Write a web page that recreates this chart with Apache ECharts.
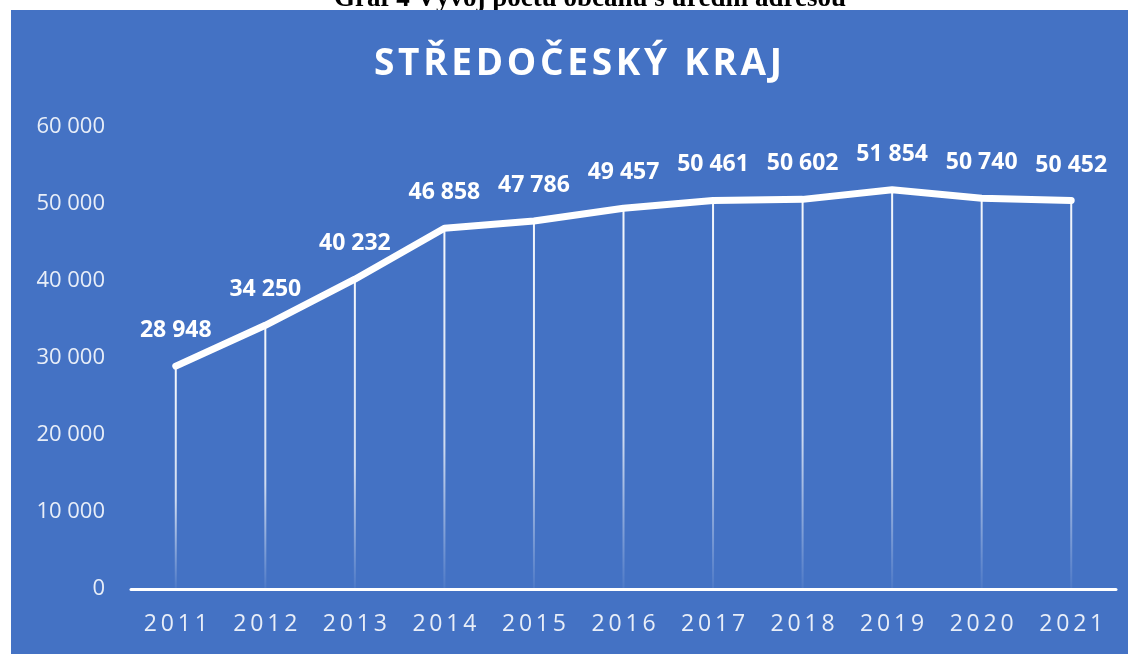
<!DOCTYPE html>
<html>
<head>
<meta charset="utf-8">
<script src="https://cdn.jsdelivr.net/npm/echarts@6/dist/echarts.min.js"></script>
<style>
    html, body { margin: 0; padding: 0; background: #fff; }
    #main { width: 1128px; height: 654px; }
</style>
</head>
<body>
<div id="main"></div>
<script>
var years = ['2011', '2012', '2013', '2014', '2015', '2016', '2017', '2018', '2019', '2020', '2021'];
var counts = [28948, 34250, 40232, 46858, 47786, 49457, 50461, 50602, 51854, 50740, 50452];
var yTicks = [0, 10000, 20000, 30000, 40000, 50000, 60000];

var titleText = 'STŘEDOČESKÝ KRAJ';
var captionText = 'Graf 4 Vývoj počtu občanů s úřední adresou';

// mezera po tisících
function fmt(v) {
    return String(v).replace(/\B(?=(\d{3})+(?!\d))/g, ' ');
}
function spaced(s, sep) {
    return s.split('').join(sep);
}

var chart = echarts.init(document.getElementById('main'));
var option = {
    backgroundColor: '#ffffff',
    animation: false,
    graphic: [
        {
            type: 'text',
            z: -2,
            style: {
                x: 590,
                y: -1,
                align: 'center',
                verticalAlign: 'middle',
                text: captionText,
                font: 'bold 27px "Liberation Serif"',
                fill: '#000'
            }
        },
        {
            type: 'rect',
            z: -1,
            shape: { x: 11, y: 10, width: 1117, height: 644 },
            style: { fill: '#4472C4' }
        },
        {
            type: 'text',
            z: 10,
            style: {
                x: 578,
                y: 64,
                align: 'center',
                verticalAlign: 'middle',
                text: spaced(titleText, '\u200A'),
                font: 'bold 37px "Open Sans"',
                fill: '#ffffff'
            }
        }
    ],
    grid: {
        left: 131,
        right: 12,
        top: 127,
        bottom: 65
    },
    xAxis: {
        type: 'category',
        data: years,
        boundaryGap: true,
        axisLine: { lineStyle: { color: '#ffffff', width: 3 } },
        axisTick: { show: false },
        axisLabel: {
            margin: 24,
            color: 'rgba(255,255,255,0.88)',
            fontFamily: 'Open Sans',
            fontSize: 23,
            formatter: function (v) { return spaced(v, '\u2009'); }
        }
    },
    yAxis: {
        type: 'value',
        min: yTicks[0],
        max: yTicks[yTicks.length - 1],
        interval: 10000,
        splitLine: { show: false },
        axisLine: { show: false },
        axisTick: { show: false },
        axisLabel: {
            margin: 26,
            color: 'rgba(255,255,255,0.88)',
            fontFamily: 'Open Sans',
            fontSize: 22,
            formatter: function (v) { return fmt(v); }
        }
    },
    series: [
        {
            type: 'bar',
            data: counts,
            barWidth: 2,
            z: 1,
            itemStyle: {
                color: new echarts.graphic.LinearGradient(0, 0, 0, 1, [
                    { offset: 0, color: 'rgba(255,255,255,0.95)' },
                    { offset: 0.6, color: 'rgba(255,255,255,0.75)' },
                    { offset: 1, color: 'rgba(255,255,255,0.05)' }
                ])
            },
            label: {
                show: true,
                position: 'top',
                distance: 24,
                color: '#ffffff',
                fontFamily: 'Open Sans',
                fontWeight: 'bold',
                fontSize: 23,
                formatter: function (p) { return fmt(p.value); }
            }
        },
        {
            type: 'line',
            data: counts,
            symbol: 'none',
            z: 3,
            lineStyle: { color: '#ffffff', width: 7, cap: 'round', join: 'round' }
        }
    ]
};
chart.setOption(option);
window.addEventListener('resize', function () {
    chart.resize();
});
</script>
</body>
</html>
